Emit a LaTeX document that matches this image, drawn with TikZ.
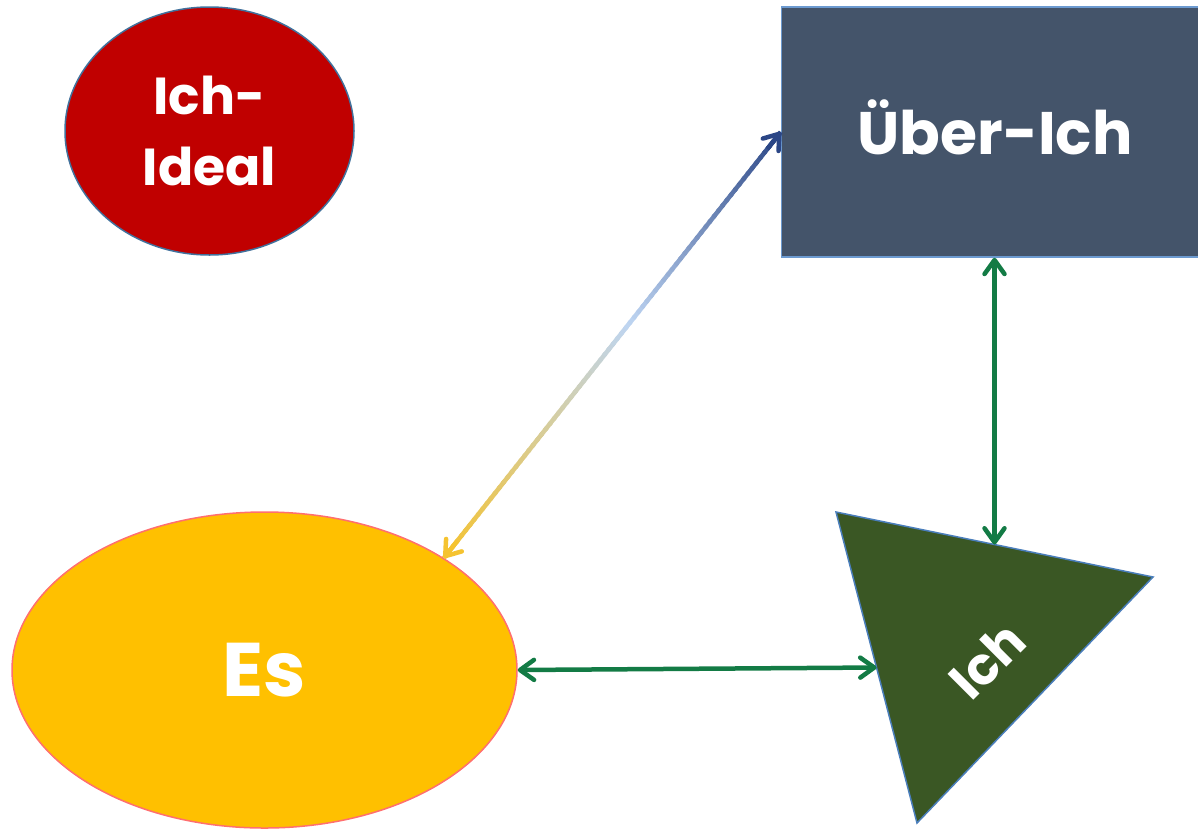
\documentclass[tikz,border=0pt]{standalone}
\usepackage{fontspec}
\setmainfont{Poppins}
\usetikzlibrary{shapes.geometric,arrows.meta,calc}
\definecolor{idealred}{HTML}{C00000}
\definecolor{idealborder}{HTML}{41719C}
\definecolor{esyel}{HTML}{FFC000}
\definecolor{esborder}{HTML}{FF6F6F}
\definecolor{ueberfill}{HTML}{44546A}
\definecolor{ueberborder}{HTML}{6C9AD0}
\definecolor{ichfill}{HTML}{3A5724}
\definecolor{ichborder}{HTML}{4A7EBB}
\definecolor{arrgreen}{HTML}{137B45}
\definecolor{gyel}{HTML}{F5C330}
\definecolor{glight}{HTML}{BED5F2}
\definecolor{gdark}{HTML}{2B4686}
\tikzset{mybarb/.tip={Straight Barb[length=14pt,width=20pt,round]}}
\begin{document}
\begin{tikzpicture}[x=1pt,y=-1pt,
  lbl/.style={text=white,inner sep=0pt},
  conn/.style={line width=4.5pt, arrgreen, {mybarb}-{mybarb}}]
\useasboundingbox (0,0) rectangle (1198,828);
% Ich-Ideal
\node[ellipse, draw=idealborder, line width=1.5pt, fill=idealred,
  minimum width=289pt, minimum height=248pt, lbl, align=center,
  font=\bfseries\fontsize{52}{71}\selectfont] (ideal) at (209.5,131) {Ich-\\Ideal};
% Es
\node[ellipse, draw=esborder, line width=1.5pt, fill=esyel,
  minimum width=505pt, minimum height=316pt, lbl,
  font=\bfseries\fontsize{76}{90}\selectfont] (es) at (264.5,670) {Es};
% Ueber-Ich
\node[rectangle, draw=ueberborder, line width=1.5pt, fill=ueberfill,
  minimum width=418pt, minimum height=250pt, lbl] (ueber) at (990.5,132) {};
\node[lbl, font=\bfseries\fontsize{60}{70}\selectfont, text height=43pt, text depth=0pt] (uebertxt) at (995,133) {Über-Ich};
% Ich triangle
\coordinate (t1) at (836,512);
\coordinate (t2) at (1153,577);
\coordinate (t3) at (917,823);
\draw[draw=ichborder, line width=1.5pt, fill=ichfill, line join=miter] (t1) -- (t2) -- (t3) -- cycle;
\node[lbl, rotate=45, font=\bfseries\fontsize{52}{60}\selectfont] (ich) at (987,660) {Ich};
\coordinate (ichleft) at ($(t1)!0.5!(t3)$);
\coordinate (ichtop) at ($(t1)!0.5!(t2)$);
% green connectors
\draw[conn] (es.east) -- (ichleft);
\draw[conn] (ueber.south -| ichtop) -- (ichtop);
% gradient connector Es <-> Ueber-Ich
\coordinate (ga) at (es.32);
\coordinate (gb) at (ueber.west);
\foreach \i in {0,...,79} {
  \pgfmathsetmacro{\ta}{\i/80}
  \pgfmathsetmacro{\tb}{min(1,(\i+1.4)/80)}
  \pgfmathsetmacro{\tm}{(\i+0.5)/80}
  \ifdim\tm pt<0.55pt
    \pgfmathsetmacro{\p}{100*(1-\tm/0.55)}
    \colorlet{segc}{gyel!\p!glight}
  \else
    \pgfmathsetmacro{\p}{100*(1-(\tm-0.55)/0.45)}
    \colorlet{segc}{glight!\p!gdark}
  \fi
  \draw[segc, line width=4.5pt] ($(ga)!\ta!(gb)$) -- ($(ga)!\tb!(gb)$);
}
\draw[gyel, line width=4.5pt, -{mybarb}] ($(ga)!0.04!(gb)$) -- (ga);
\draw[gdark, line width=4.5pt, -{mybarb}] ($(ga)!0.96!(gb)$) -- (gb);
\end{tikzpicture}
\end{document}
